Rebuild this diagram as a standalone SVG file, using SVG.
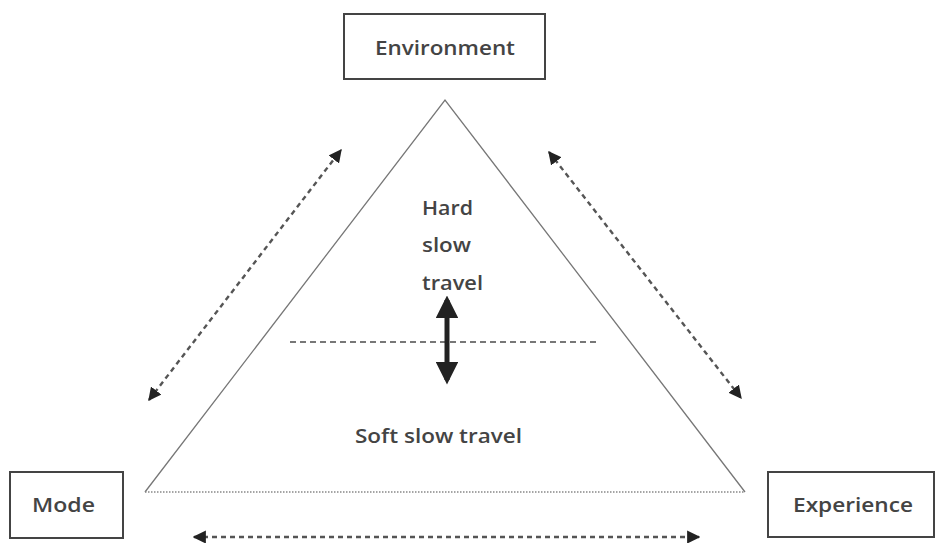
<svg xmlns="http://www.w3.org/2000/svg" width="936" height="543" viewBox="0 0 936 543">
<style>
.box{fill:#fff;stroke:#444;stroke-width:2}
.lbl{font-family:"Open Sans","DejaVu Sans","Liberation Sans",Arial,sans-serif;font-size:20px;font-weight:600;fill:#444}
.side{stroke:#777;stroke-width:1.3;fill:none}
.dash{stroke:#555;stroke-width:2.4;stroke-dasharray:5,4;fill:none}
</style>
<defs>
<marker id="ah" viewBox="0 0 10 10" refX="9" refY="5" markerWidth="5.5" markerHeight="5.5" orient="auto-start-reverse" markerUnits="strokeWidth">
<path d="M0,0 L10,5 L0,10 z" fill="#222"/>
</marker>
<marker id="bh" viewBox="0 0 10 10" refX="8" refY="5" markerWidth="4.5" markerHeight="4.5" orient="auto-start-reverse" markerUnits="strokeWidth">
<path d="M0,0 L10,5 L0,10 z" fill="#222"/>
</marker>
</defs>
<rect width="936" height="543" fill="#fff"/>
<g id="triangle">
<path class="side" d="M145,492 L445,100 L745,492"/>
<line x1="145" y1="492" x2="745" y2="492" stroke="#888" stroke-width="1.5" stroke-dasharray="1.5,1.5"/>
<line x1="290" y1="342" x2="597" y2="342" stroke="#777" stroke-width="2" stroke-dasharray="6,4"/>
<text class="lbl" x="422" y="215" textLength="51" lengthAdjust="spacingAndGlyphs">Hard</text>
<text class="lbl" x="422" y="252" textLength="49" lengthAdjust="spacingAndGlyphs">slow</text>
<text class="lbl" x="422" y="290" textLength="61" lengthAdjust="spacingAndGlyphs">travel</text>
<text class="lbl" x="355" y="443" textLength="167" lengthAdjust="spacingAndGlyphs">Soft slow travel</text>
</g>
<g id="environment">
<rect class="box" x="344" y="14" width="201" height="65"/>
<text class="lbl" x="375" y="55" textLength="140" lengthAdjust="spacingAndGlyphs">Environment</text>
</g>
<g id="mode">
<rect class="box" x="10" y="472" width="113" height="66"/>
<text class="lbl" x="32" y="512" textLength="63" lengthAdjust="spacingAndGlyphs">Mode</text>
</g>
<g id="experience">
<rect class="box" x="768" y="472" width="166" height="65"/>
<text class="lbl" x="793" y="512" textLength="120" lengthAdjust="spacingAndGlyphs">Experience</text>
</g>
<g id="connectors">
<line class="dash" x1="149" y1="400" x2="341" y2="150" marker-start="url(#ah)" marker-end="url(#ah)"/>
<line class="dash" x1="549" y1="152" x2="741" y2="398" marker-start="url(#ah)" marker-end="url(#ah)"/>
<line class="dash" x1="194" y1="537" x2="699" y2="537" marker-start="url(#ah)" marker-end="url(#ah)"/>
<line x1="447" y1="300" x2="447" y2="380" stroke="#222" stroke-width="5" marker-start="url(#bh)" marker-end="url(#bh)"/>
</g>
</svg>
